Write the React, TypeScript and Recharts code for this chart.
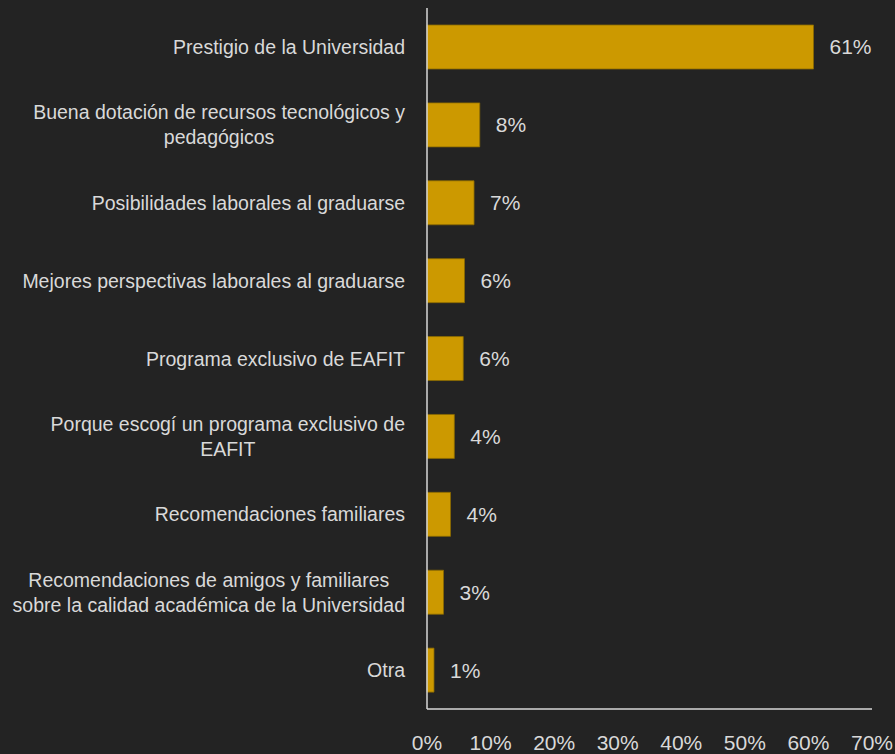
import React from 'react';
import { BarChart, Bar, XAxis, YAxis, LabelList } from 'recharts';

const categories = [
  'Prestigio de la Universidad',
  'Buena dotación de recursos tecnológicos y pedagógicos',
  'Posibilidades laborales al graduarse',
  'Mejores perspectivas laborales al graduarse',
  'Programa exclusivo de EAFIT',
  'Porque escogí un programa exclusivo de EAFIT',
  'Recomendaciones familiares',
  'Recomendaciones de amigos y familiares sobre la calidad académica de la Universidad',
  'Otra',
];
const shares = [60.8, 8.3, 7.4, 5.9, 5.7, 4.3, 3.7, 2.6, 1.1];
const xTicks = [0, 10, 20, 30, 40, 50, 60, 70];

const data = categories.map((name, i) => ({ name, value: shares[i] }));

const BG = '#232323';
const GOLD = '#CC9900';
const TEXT = '#D9D9D9';
const FONT = "'Liberation Sans', Arial, sans-serif";
const TICK_SIZE = 19.5;
const LINE_H = 25;

let ctx: CanvasRenderingContext2D | null = null;
const measure = (s: string) => {
  if (!ctx) {
    ctx = document.createElement('canvas').getContext('2d');
  }
  if (!ctx) return s.length * TICK_SIZE * 0.5;
  ctx.font = `${TICK_SIZE}px ${FONT}`;
  return ctx.measureText(s).width;
};

// parte la etiqueta en lineas de ancho maximo maxW
const wrap = (text: string, maxW: number) => {
  const words = text.split(' ');
  const lines: string[] = [];
  let cur = '';
  words.forEach((w) => {
    const next = cur ? cur + ' ' + w : w;
    if (cur && measure(next) > maxW) {
      lines.push(cur);
      cur = w;
    } else {
      cur = next;
    }
  });
  if (cur) lines.push(cur);
  return lines;
};

const CategoryTick = ({ x, y, payload }: any) => {
  const lines = wrap(payload.value, 402);
  const blockW = Math.max(...lines.map(measure));
  const cx = x - blockW / 2;
  const startY = y - ((lines.length - 1) * LINE_H) / 2;
  return (
    <g>
      {lines.map((l, i) => (
        <text
          key={i}
          x={cx}
          y={startY + i * LINE_H}
          textAnchor="middle"
          dominantBaseline="central"
          fill={TEXT}
          fontSize={TICK_SIZE}
          fontFamily={FONT}
        >
          {l}
        </text>
      ))}
    </g>
  );
};

export default function App() {
  return (
    <div style={{ position: 'absolute', left: 0, top: 0, width: 895, height: 754, background: BG }}>
      <BarChart
        width={895}
        height={754}
        data={data}
        layout="vertical"
        margin={{ top: 8, right: 23, left: 0, bottom: 0 }}
      >
        <XAxis
          type="number"
          domain={[0, 70]}
          ticks={xTicks}
          tickFormatter={(v) => `${v}%`}
          height={45}
          tick={{ fill: TEXT, fontSize: 21, fontFamily: FONT }}
          tickLine={false}
          tickMargin={20}
          axisLine={{ stroke: TEXT, strokeWidth: 1.5 }}
          interval={0}
        />
        <YAxis
          type="category"
          dataKey="name"
          width={427}
          tick={<CategoryTick />}
          tickLine={false}
          tickSize={0}
          tickMargin={22}
          axisLine={{ stroke: TEXT, strokeWidth: 1.5 }}
          interval={0}
        />
        <Bar dataKey="value" fill={GOLD} stroke="#8a6a00" strokeWidth={0.8} barSize={44} isAnimationActive={false}>
          <LabelList
            dataKey="value"
            position="right"
            offset={16}
            formatter={(v: any) => `${Math.round(v)}%`}
            fill={TEXT}
            fontSize={21}
            fontFamily={FONT}
          />
        </Bar>
      </BarChart>
    </div>
  );
}
